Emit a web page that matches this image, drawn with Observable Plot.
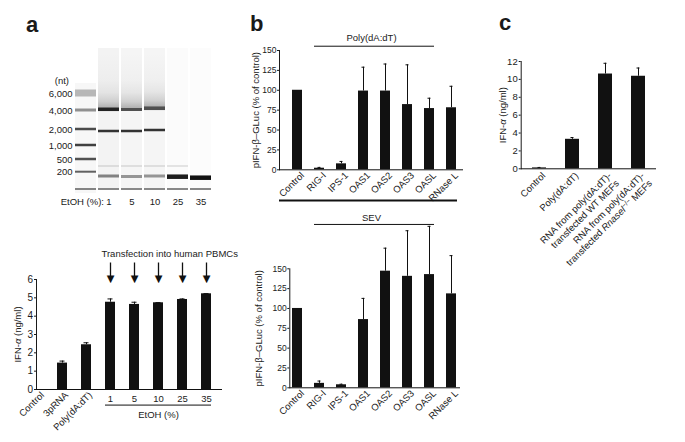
<!DOCTYPE html>
<html>
<head>
<meta charset="utf-8">
<script src="https://cdn.jsdelivr.net/npm/d3@7"></script>
<script src="https://cdn.jsdelivr.net/npm/@observablehq/plot@0.6"></script>
<style>
  body { margin: 0; background: #fff; }
  #fig { position: relative; width: 685px; height: 442px; overflow: hidden; background: #fff;
         font-family: "Liberation Sans", Arial, Helvetica, sans-serif; color: #1a1a1a; }
  .letter { position: absolute; font-weight: bold; font-size: 22px; line-height: 1; }
  #fig svg { position: absolute; }
</style>
</head>
<body>
<div id="fig">
  <div class="letter" style="left:26px;top:14px">a</div>
  <div class="letter" style="left:250px;top:13px">b</div>
  <div class="letter" style="left:499px;top:12px">c</div>
</div>
<script>
// ---------------- DATA ----------------
// Panel a (top): gel
const gelLanes = ["ladder", "1", "5", "10", "25", "35"];
const ladderSizes = ["6,000", "4,000", "2,000", "1,000", "500", "200"];
const ladderMigration = [45, 62, 81, 97, 111, 123.7];
const bandLane = ["ladder","ladder","ladder","ladder","ladder","ladder","ladder",
                  "1","1","1","1","1",
                  "5","5","5","5","5",
                  "10","10","10","10","10",
                  "25","25","25",
                  "35","35"];
const bandMigration = [45, 62, 81, 97, 111, 123.7, 141,
                       61.3, 83, 118, 128, 141,
                       61.5, 83, 118, 128.5, 141,
                       60.3, 82, 118, 128, 141,
                       118, 128.7, 141,
                       129.7, 141];
const bandIntensity = [0.28, 0.45, 0.75, 0.8, 0.72, 0.65, 0.5,
                       0.92, 0.85, 0.1, 0.5, 0.5,
                       0.72, 0.85, 0.1, 0.42, 0.5,
                       0.72, 0.85, 0.1, 0.42, 0.5,
                       0.1, 0.95, 0.5,
                       1.0, 0.5];
const bandThickness = [7, 3, 2.5, 2.5, 2.5, 2, 2,
                       3.5, 2.5, 2, 3, 2,
                       3, 2.5, 2, 3, 2,
                       3.5, 2.5, 2, 3, 2,
                       2, 4.5, 2,
                       4.5, 2];
const smearLane = ["1", "5", "10"];
const smearEnd = [60, 60, 59];
const laneBgLane = ["ladder", "1", "5", "10", "25", "35"];
const laneBgFrom = [35, 0, 0, 0, 0, 0];
const laneBgTo = [145, 140, 140, 140, 140, 140];
const laneBgShade = [0.035, 0.05, 0.045, 0.045, 0.015, 0.012];

// Panel a (bottom): IFN-alpha in human PBMCs
const pbmcCategories = ["Control", "3pRNA", "Poly(dA:dT)", "1", "5", "10", "25", "35"];
const pbmcIFN = [0, 1.44, 2.44, 4.76, 4.64, 4.73, 4.91, 5.22];
const pbmcErr = [0, 0.11, 0.11, 0.18, 0.12, 0.01, 0.03, 0.01];
const pbmcTicks = [0, 1, 2, 3, 4, 5, 6];

// Panel b: pIFN-beta-GLuc
const bCategories = ["Control", "RIG-I", "IPS-1", "OAS1", "OAS2", "OAS3", "OASL", "RNase L"];
const polyValues = [100, 2, 7.5, 99, 99, 82, 77, 78];
const polyErr = [0, 1, 3, 30, 34, 50, 13, 27];
const sevValues = [100, 5.6, 3.8, 86, 147, 140.5, 142.7, 118.4];
const sevErr = [0, 2.9, 0.7, 26.7, 29, 57.5, 60.8, 48.2];
const bTicks = [0, 25, 50, 75, 100, 125, 150];

// Panel c: IFN-alpha
const cCategories = ["Control", "Poly(dA:dT)",
  "RNA from poly(dA:dT)-\ntransfected WT MEFs",
  "RNA from poly(dA:dT)-\ntransfected Rnasel−/− MEFs"];
const cIFN = [0.1, 3.3, 10.6, 10.35];
const cErr = [0.05, 0.2, 1.2, 0.92];
const cTicks = [0, 2, 4, 6, 8, 10, 12];

// ---------------- HELPERS ----------------
const INK = "#111";
const FONT = '"Liberation Sans", Arial, Helvetica, sans-serif';
const NS = "http://www.w3.org/2000/svg";
const fig = document.getElementById("fig");
const baseStyle = {fontFamily: FONT, fontSize: "9.5px", background: "transparent", color: "#1a1a1a", overflow: "visible", maxWidth: "none"};
const intFmt = d3.format("d");

function place(svg, left, top) {
  svg.style.left = left + "px";
  svg.style.top = top + "px";
  fig.appendChild(svg);
}
function italicGreek(svg) {
  svg.querySelectorAll("text, tspan").forEach(el => {
    if (el.children.length === 0 && el.textContent.includes("α")) {
      const parts = el.textContent.split("α");
      el.textContent = "";
      parts.forEach((p, i) => {
        if (i) {
          const t = document.createElementNS(NS, "tspan");
          t.setAttribute("font-style", "italic");
          t.textContent = "α";
          el.appendChild(t);
        }
        el.appendChild(document.createTextNode(p));
      });
    }
  });
}
function setTickFont(svg, size) {
  svg.querySelectorAll('g[aria-label="y-axis"] text, g[aria-label="y-axis tick label"] text').forEach(t => t.setAttribute("font-size", size));
}
function rows(cats, vals, errs) {
  return cats.map((c, i) => ({cat: c, v: vals[i], e: errs[i]}));
}
function barMarks(data, capInset) {
  const withErr = data.filter(d => d.e > 0);
  return [
    Plot.barY(data, {x: "cat", y: "v", fill: INK}),
    Plot.ruleX(withErr, {x: "cat", y1: "v", y2: d => d.v + d.e, stroke: INK, strokeWidth: 1}),
    Plot.tickY(withErr, {x: "cat", y: d => d.v + d.e, stroke: INK, strokeWidth: 1, insetLeft: capInset, insetRight: capInset}),
    Plot.ruleY([0], {stroke: INK})
  ];
}
function yLabel(text, dx, size) {
  return Plot.text([text], {frameAnchor: "left", rotate: -90, textAnchor: "middle", dx, text: d => d, fontSize: size});
}

// ---------------- PANEL a: GEL ----------------
const bands = bandLane.map((l, i) => ({lane: l, pos: bandMigration[i], k: bandIntensity[i], th: bandThickness[i]}));
const smears = smearLane.map((l, i) => ({lane: l, end: smearEnd[i]}));
const laneBg = laneBgLane.map((l, i) => ({lane: l, from: laneBgFrom[i], to: laneBgTo[i], k: laneBgShade[i]}));

const gel = Plot.plot({
  width: 240, height: 170,
  marginLeft: 72, marginRight: 25, marginTop: 8, marginBottom: 17,
  style: baseStyle,
  x: {domain: gelLanes, paddingInner: 0.08, paddingOuter: 0.04, axis: null},
  y: {domain: [0, 145], reverse: true, axis: null},
  marks: [
    Plot.barY(laneBg, {x: "lane", y1: "from", y2: "to", fill: INK, fillOpacity: "k"}),
    Plot.barY(smears, {x: "lane", y1: 5, y2: "end", fill: "url(#smearGrad)"}),
    Plot.barY(bands, {x: "lane", y1: d => d.pos - d.th / 2, y2: d => d.pos + d.th / 2,
                      fill: INK, fillOpacity: "k", ariaLabel: "gel bands"}),
    Plot.text(ladderSizes, {x: () => "ladder", y: (d, i) => ladderMigration[i], text: d => d,
                            textAnchor: "end", dx: -13.5}),
    Plot.text(["(nt)"], {x: () => "ladder", y: 32, text: d => d, textAnchor: "end", dx: -17}),
    Plot.text(["EtOH (%):"], {x: () => "ladder", y: 153, text: d => d, textAnchor: "end", dx: 18}),
    Plot.text(gelLanes.slice(1), {x: d => d, y: 153, text: d => d})
  ]
});
{
  const defs = d3.select(gel).insert("defs", ":first-child");
  const g = defs.append("linearGradient").attr("id", "smearGrad")
    .attr("x1", 0).attr("y1", 0).attr("x2", 0).attr("y2", 1);
  [[0, 0.0], [0.5, 0.025], [0.72, 0.07], [0.88, 0.16], [1, 0.3]].forEach(([o, a]) =>
    g.append("stop").attr("offset", o).attr("stop-color", INK).attr("stop-opacity", a));
  defs.append("filter").attr("id", "gelBlur")
    .attr("x", "-10%").attr("y", "-10%").attr("width", "120%").attr("height", "120%")
    .append("feGaussianBlur").attr("stdDeviation", 0.6);
  d3.select(gel).selectAll('g[aria-label="gel bands"]').attr("filter", "url(#gelBlur)");
}
place(gel, 0, 40);

// ---------------- PANEL a: BARS ----------------
const pbmc = rows(pbmcCategories, pbmcIFN, pbmcErr);
const etoh = pbmcCategories.slice(3);
const a2 = Plot.plot({
  width: 245, height: 202,
  marginLeft: 36, marginRight: 23, marginTop: 39, marginBottom: 53,
  style: baseStyle,
  x: {domain: pbmcCategories, range: [18, 226], padding: 0.6, axis: null},
  y: {domain: [0, 6], ticks: pbmcTicks, tickFormat: intFmt, tickSize: 2, tickPadding: 1.5, line: true, label: null},
  marks: [
    ...barMarks(pbmc, 2.5),
    Plot.text(pbmcCategories.slice(0, 3), {x: d => d, y: 0, text: d => d, rotate: -45,
      textAnchor: "end", dx: 4, dy: 4}),
    Plot.text(etoh, {x: d => d, y: 0, text: d => d, dy: 9}),
    Plot.ruleY([-0.85], {x1: () => etoh[0], x2: () => etoh[etoh.length - 1], stroke: INK}),
    Plot.text(["EtOH (%)"], {x: () => "10", y: -1.38, text: d => d}),
    Plot.ruleX(etoh, {x: d => d, y1: 6.9, y2: 6.15, stroke: INK, strokeWidth: 1.3}),
    Plot.text(etoh, {x: d => d, y: 6.03, text: () => "▼", fontFamily: "DejaVu Sans", fontSize: 10, fill: INK}),
    Plot.text(["Transfection into human PBMCs"], {x: () => "1", y: 7.38, text: d => d,
      textAnchor: "start", dx: -9}),
    yLabel("IFN-α (ng/ml)", -19, 9.5)
  ]
});
italicGreek(a2);
setTickFont(a2, 10);
place(a2, 0, 240);

// ---------------- PANEL b ----------------
const yLabelB = "pIFN-β–GLuc (% of control)";
const poly = rows(bCategories, polyValues, polyErr);
const b1 = Plot.plot({
  width: 245, height: 212,
  marginLeft: 49, marginRight: 12, marginTop: 50, marginBottom: 42.7,
  style: baseStyle,
  x: {domain: bCategories, range: [47, 241], padding: 0.56, axis: null},
  y: {domain: [0, 150], ticks: bTicks, tickFormat: intFmt, tickSize: 2, tickPadding: 1, line: true, label: null},
  marks: [
    ...barMarks(poly, 3.5),
    Plot.text(bCategories, {x: d => d, y: 0, text: d => d, rotate: -45, textAnchor: "end", dx: 5, dy: 4}),
    Plot.ruleY([155.4], {x1: () => "RIG-I", x2: () => "OASL", stroke: INK}),
    Plot.text(["Poly(dA:dT)"], {x: () => "OAS1", y: 165.5, dx: 8, text: d => d}),
    Plot.ruleY([-38.6], {insetRight: 6, stroke: INK, strokeWidth: 2}),
    yLabel(yLabelB, -23.5, 9.5)
  ]
});
setTickFont(b1, 8.5);
place(b1, 230, 0);

const sev = rows(bCategories, sevValues, sevErr);
const b2 = Plot.plot({
  width: 245, height: 237,
  marginLeft: 59.3, marginRight: 15, marginTop: 63.3, marginBottom: 54.7,
  style: baseStyle,
  x: {domain: bCategories, range: [46.8, 240.8], padding: 0.56, axis: null},
  y: {domain: [0, 150], ticks: bTicks, tickFormat: intFmt, tickSize: 2, tickPadding: 1, line: true, label: null},
  marks: [
    ...barMarks(sev, 3.5),
    Plot.text(bCategories, {x: d => d, y: 0, text: d => d, rotate: -45, textAnchor: "end", dx: 5, dy: 4}),
    Plot.ruleY([205.9], {x1: () => "RIG-I", x2: () => "OASL", stroke: INK}),
    Plot.text(["SEV"], {x: () => "OAS1", y: 214, dx: 8, text: d => d}),
    yLabel(yLabelB, -31, 9.5)
  ]
});
setTickFont(b2, 8.5);
place(b2, 230, 205);

// ---------------- PANEL c ----------------
const cData = rows(cCategories, cIFN, cErr);
const c = Plot.plot({
  width: 225, height: 300,
  marginLeft: 60.7, marginRight: 29, marginTop: 61, marginBottom: 131.7,
  style: baseStyle,
  x: {domain: cCategories, range: [50.7, 205.8], padding: 0.586, axis: null},
  y: {domain: [0, 12], ticks: cTicks, tickFormat: intFmt, tickSize: 2, tickPadding: 1.5, line: true, label: null},
  marks: [
    ...barMarks(cData, 5.5),
    Plot.text(cCategories, {x: d => d, y: 0, text: d => d, rotate: -45, textAnchor: "end",
      lineAnchor: "top", lineHeight: 1.15, dx: 1, dy: 2}),
    yLabel("IFN-α (ng/ml)", -18, 9.5)
  ]
});
italicGreek(c);
setTickFont(c, 9.5);
c.querySelectorAll("tspan, text").forEach(el => {
  if (el.children.length === 0 && el.textContent.includes("Rnasel−/−")) {
    const [pre, post] = el.textContent.split("Rnasel−/−");
    el.textContent = "";
    el.appendChild(document.createTextNode(pre));
    const it = document.createElementNS(NS, "tspan");
    it.setAttribute("font-style", "italic");
    it.textContent = "Rnasel";
    el.appendChild(it);
    const sup = document.createElementNS(NS, "tspan");
    sup.setAttribute("dy", "-3");
    sup.setAttribute("font-size", "7");
    sup.textContent = "−/−";
    el.appendChild(sup);
    const rest = document.createElementNS(NS, "tspan");
    rest.setAttribute("dy", "3");
    rest.textContent = post;
    el.appendChild(rest);
  }
});
place(c, 460, 0);
</script>
</body>
</html>
